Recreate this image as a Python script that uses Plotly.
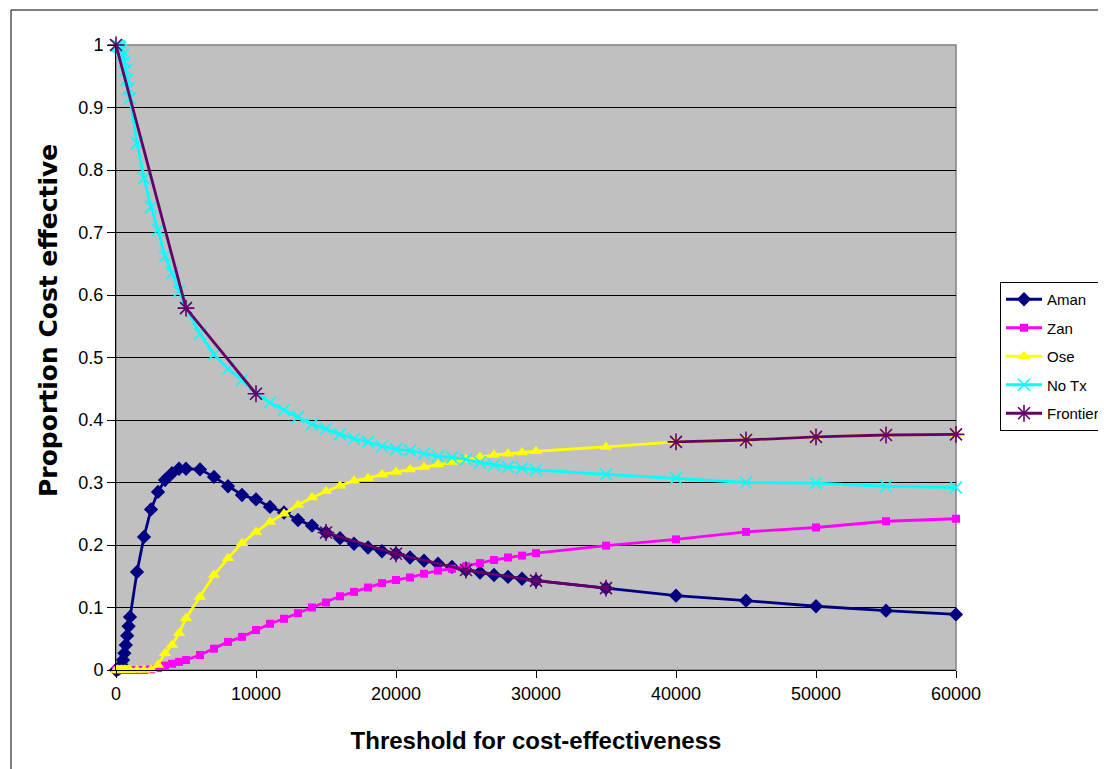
import plotly.graph_objects as go

# ---- data ----
threshold = [0, 100, 200, 300, 400, 500, 600, 700, 800, 900, 1000,
             1500, 2000, 2500, 3000, 3500, 4000, 4500, 5000,
             6000, 7000, 8000, 9000, 10000, 11000, 12000, 13000, 14000, 15000,
             16000, 17000, 18000, 19000, 20000, 21000, 22000, 23000, 24000, 25000,
             26000, 27000, 28000, 29000, 30000,
             35000, 40000, 45000, 50000, 55000, 60000]

aman = [0.0, 0.001, 0.002, 0.004, 0.008, 0.016, 0.027, 0.040, 0.055, 0.070, 0.085,
        0.157, 0.213, 0.257, 0.285, 0.304, 0.315, 0.322, 0.322,
        0.321, 0.309, 0.294, 0.280, 0.273, 0.261, 0.252, 0.240, 0.231, 0.220,
        0.211, 0.202, 0.196, 0.190, 0.186, 0.180, 0.175, 0.170, 0.165, 0.160,
        0.156, 0.152, 0.149, 0.146, 0.143,
        0.131, 0.119, 0.111, 0.102, 0.095, 0.089]

zan = [0.0, 0.0, 0.0, 0.0, 0.0, 0.0, 0.0, 0.0, 0.0, 0.0, 0.0,
       0.0, 0.0, 0.001, 0.003, 0.007, 0.010, 0.013, 0.016,
       0.024, 0.034, 0.045, 0.053, 0.064, 0.074, 0.082, 0.091, 0.100, 0.108,
       0.118, 0.125, 0.132, 0.139, 0.144, 0.148, 0.154, 0.159, 0.162, 0.166,
       0.171, 0.176, 0.180, 0.183, 0.187,
       0.199, 0.209, 0.221, 0.228, 0.238, 0.242]

ose = [0.0, 0.0, 0.0, 0.0, 0.0, 0.0, 0.0, 0.0, 0.0, 0.0, 0.0,
       0.0, 0.0, 0.001, 0.008, 0.027, 0.040, 0.059, 0.083,
       0.117, 0.152, 0.179, 0.203, 0.221, 0.237, 0.250, 0.264, 0.276, 0.286,
       0.295, 0.303, 0.307, 0.313, 0.317, 0.321, 0.325, 0.329, 0.333, 0.337,
       0.341, 0.344, 0.346, 0.348, 0.350,
       0.357, 0.365, 0.368, 0.373, 0.376, 0.377]

no_tx = [1.0, 0.999, 0.998, 0.996, 0.992, 0.984, 0.973, 0.960, 0.945, 0.930, 0.915,
         0.843, 0.787, 0.741, 0.704, 0.662, 0.635, 0.606, 0.579,
         0.538, 0.505, 0.482, 0.464, 0.442, 0.428, 0.416, 0.405, 0.393, 0.386,
         0.377, 0.370, 0.365, 0.358, 0.353, 0.351, 0.346, 0.342, 0.340, 0.337,
         0.332, 0.328, 0.325, 0.323, 0.320,
         0.313, 0.307, 0.300, 0.299, 0.294, 0.292]

frontier_x = [0, 5000, 10000, None, 15000, 20000, 25000, 30000, 35000, None,
              40000, 45000, 50000, 55000, 60000]
frontier_y = [1.0, 0.579, 0.442, None, 0.220, 0.186, 0.160, 0.143, 0.131, None,
              0.365, 0.368, 0.373, 0.376, 0.377]

x_ticks = [0, 10000, 20000, 30000, 40000, 50000, 60000]
y_ticks = [0, 0.1, 0.2, 0.3, 0.4, 0.5, 0.6, 0.7, 0.8, 0.9, 1]

FONT = "Arial, Liberation Sans, sans-serif"

fig = go.Figure()

series = [
    ("Aman", threshold, aman, "#000080", dict(symbol="diamond", size=11)),
    ("Zan", threshold, zan, "#FF00FF", dict(symbol="square", size=8)),
    ("Ose", threshold, ose, "#FFFF00", dict(symbol="triangle-up", size=11)),
    ("No Tx", threshold, no_tx, "#00FFFF", dict(symbol="x-thin-open", size=12)),
    ("Frontier", frontier_x, frontier_y, "#660066", dict(symbol="asterisk-open", size=14)),
]

for name, xs, ys, color, mk in series:
    marker = dict(color=color, **mk)
    if mk["symbol"].endswith("open"):
        marker["line"] = dict(color=color, width=1.6)
    else:
        marker["line"] = dict(color=color, width=0)
    fig.add_trace(go.Scatter(
        x=xs, y=ys, name=name, mode="lines+markers",
        line=dict(color=color, width=2.8),
        marker=marker, cliponaxis=False, connectgaps=False,
        legendgroup=name,
    ))

OFF = 8  # page body margin
# plot area in reference pixel coordinates
RL, RR, RT, RB = 116, 956, 45, 670
W, H = 1106 - OFF, 769 - OFF
L, R, T, B = RL - OFF, RR - OFF, RT - OFF, RB - OFF
pw, ph = RR - RL, RB - RT

def px_to_paper_x(p):
    return (p - RL) / pw

def px_to_paper_y(p):
    return (RB - p) / ph

shapes = [
    dict(type="rect", xref="paper", yref="paper", x0=0, x1=1, y0=0, y1=1,
         line=dict(color="#808080", width=1.5), fillcolor="#C0C0C0", layer="below"),
    dict(type="rect", xref="paper", yref="paper",
         x0=px_to_paper_x(11), x1=px_to_paper_x(1130),
         y0=px_to_paper_y(800), y1=px_to_paper_y(10),
         line=dict(color="black", width=1), fillcolor="rgba(0,0,0,0)", layer="below"),
]

annotations = [
    dict(text="<b>Proportion Cost effective</b>", textangle=-90,
         xref="paper", yref="paper",
         x=px_to_paper_x(48), y=px_to_paper_y(321),
         xanchor="center", yanchor="middle", showarrow=False,
         font=dict(family="DejaVu Sans, sans-serif", size=25, color="black")),
]

fig.update_layout(
    width=W, height=H,
    margin=dict(l=L, r=W - R, t=T, b=H - B, autoexpand=False),
    paper_bgcolor="white",
    plot_bgcolor="#C0C0C0",
    font=dict(family=FONT, color="black", size=18),
    shapes=shapes,
    annotations=annotations,
    showlegend=True,
    legend=dict(
        x=px_to_paper_x(1000), y=px_to_paper_y(282), xanchor="left", yanchor="top",
        bgcolor="white", bordercolor="black", borderwidth=1,
        font=dict(family=FONT, size=15, color="black"),
        itemwidth=36, tracegroupgap=6,
    ),
    xaxis=dict(
        range=[0, 60000], tickvals=x_ticks, tickformat="d",
        showgrid=False, zeroline=False,
        showline=True, linecolor="black", linewidth=1,
        ticks="outside", ticklen=7, tickcolor="black",
        tickfont=dict(family=FONT, size=18, color="black"),
        title=dict(text="<b>Threshold for cost-effectiveness</b>",
                   font=dict(family=FONT, size=24, color="black"), standoff=29),
    ),
    yaxis=dict(
        range=[0, 1], tickvals=y_ticks,
        showgrid=True, gridcolor="black", gridwidth=1,
        zeroline=False,
        showline=True, linecolor="black", linewidth=1,
        ticks="outside", ticklen=8, tickcolor="black",
        tickfont=dict(family=FONT, size=18, color="black"),
    ),
)

fig.write_html("out.html")
